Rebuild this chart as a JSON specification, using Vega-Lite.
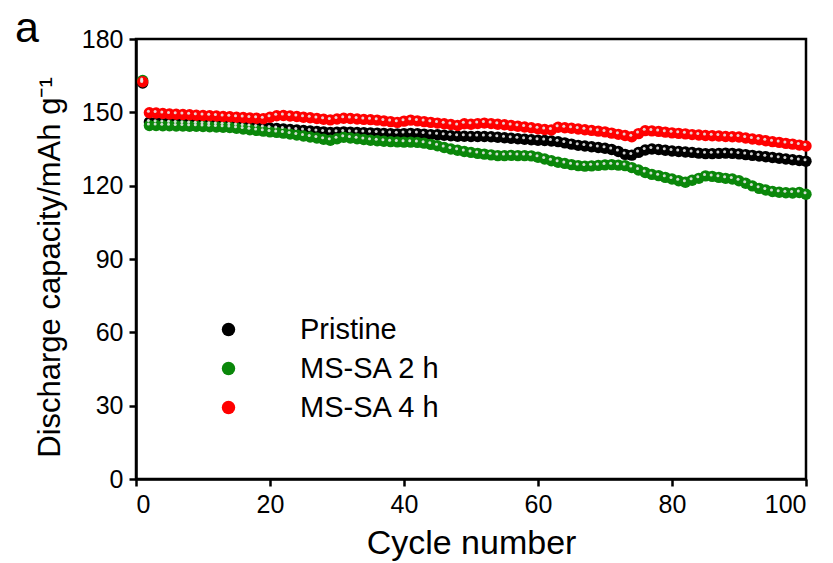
{
"$schema":"https://vega.github.io/schema/vega-lite/v6.json",
"width":670,"height":440,
"autosize":{"type":"none"},
"padding":{"left":136,"top":39,"right":27,"bottom":84},
"background":"white",
"title":{"text":"a","anchor":"start","frame":"group","fontSize":43,"fontWeight":"normal","font":"Liberation Sans","color":"black","dx":-121,"offset":-24},
"config":{"view":{"stroke":"black","strokeWidth":2.5},"font":"Liberation Sans"},
"datasets":{"d":[
{"c":1,"s":"Pristine","v":162.0},{"c":2,"s":"Pristine","v":146.0},{"c":3,"s":"Pristine","v":145.9},{"c":4,"s":"Pristine","v":145.8},{"c":5,"s":"Pristine","v":145.7},{"c":6,"s":"Pristine","v":145.6},{"c":7,"s":"Pristine","v":145.5},{"c":8,"s":"Pristine","v":145.4},{"c":9,"s":"Pristine","v":145.3},{"c":10,"s":"Pristine","v":145.2},
{"c":11,"s":"Pristine","v":145.1},{"c":12,"s":"Pristine","v":145.0},{"c":13,"s":"Pristine","v":144.9},{"c":14,"s":"Pristine","v":144.8},{"c":15,"s":"Pristine","v":144.6},{"c":16,"s":"Pristine","v":144.4},{"c":17,"s":"Pristine","v":144.2},{"c":18,"s":"Pristine","v":144.0},{"c":19,"s":"Pristine","v":143.8},{"c":20,"s":"Pristine","v":143.6},
{"c":21,"s":"Pristine","v":143.4},{"c":22,"s":"Pristine","v":143.2},{"c":23,"s":"Pristine","v":143.0},{"c":24,"s":"Pristine","v":142.8},{"c":25,"s":"Pristine","v":142.6},{"c":26,"s":"Pristine","v":142.4},{"c":27,"s":"Pristine","v":142.2},{"c":28,"s":"Pristine","v":142.0},{"c":29,"s":"Pristine","v":141.8},{"c":30,"s":"Pristine","v":141.9},
{"c":31,"s":"Pristine","v":142.0},{"c":32,"s":"Pristine","v":141.9},{"c":33,"s":"Pristine","v":141.8},{"c":34,"s":"Pristine","v":141.7},{"c":35,"s":"Pristine","v":141.6},{"c":36,"s":"Pristine","v":141.5},{"c":37,"s":"Pristine","v":141.4},{"c":38,"s":"Pristine","v":141.3},{"c":39,"s":"Pristine","v":141.2},{"c":40,"s":"Pristine","v":141.3},
{"c":41,"s":"Pristine","v":141.4},{"c":42,"s":"Pristine","v":141.3},{"c":43,"s":"Pristine","v":141.1},{"c":44,"s":"Pristine","v":140.9},{"c":45,"s":"Pristine","v":140.8},{"c":46,"s":"Pristine","v":140.6},{"c":47,"s":"Pristine","v":140.4},{"c":48,"s":"Pristine","v":140.2},{"c":49,"s":"Pristine","v":140.2},{"c":50,"s":"Pristine","v":140.1},
{"c":51,"s":"Pristine","v":140.1},{"c":52,"s":"Pristine","v":140.1},{"c":53,"s":"Pristine","v":140.0},{"c":54,"s":"Pristine","v":139.8},{"c":55,"s":"Pristine","v":139.6},{"c":56,"s":"Pristine","v":139.4},{"c":57,"s":"Pristine","v":139.2},{"c":58,"s":"Pristine","v":139.0},{"c":59,"s":"Pristine","v":138.8},{"c":60,"s":"Pristine","v":138.6},
{"c":61,"s":"Pristine","v":138.5},{"c":62,"s":"Pristine","v":138.3},{"c":63,"s":"Pristine","v":138.0},{"c":64,"s":"Pristine","v":137.5},{"c":65,"s":"Pristine","v":137.0},{"c":66,"s":"Pristine","v":136.5},{"c":67,"s":"Pristine","v":136.2},{"c":68,"s":"Pristine","v":135.9},{"c":69,"s":"Pristine","v":135.6},{"c":70,"s":"Pristine","v":135.3},
{"c":71,"s":"Pristine","v":134.8},{"c":72,"s":"Pristine","v":134.0},{"c":73,"s":"Pristine","v":132.8},{"c":74,"s":"Pristine","v":132.5},{"c":75,"s":"Pristine","v":133.6},{"c":76,"s":"Pristine","v":134.6},{"c":77,"s":"Pristine","v":135.0},{"c":78,"s":"Pristine","v":134.8},{"c":79,"s":"Pristine","v":134.5},{"c":80,"s":"Pristine","v":134.2},
{"c":81,"s":"Pristine","v":134.0},{"c":82,"s":"Pristine","v":133.8},{"c":83,"s":"Pristine","v":133.6},{"c":84,"s":"Pristine","v":133.3},{"c":85,"s":"Pristine","v":133.1},{"c":86,"s":"Pristine","v":133.1},{"c":87,"s":"Pristine","v":133.2},{"c":88,"s":"Pristine","v":133.3},{"c":89,"s":"Pristine","v":133.2},{"c":90,"s":"Pristine","v":133.0},
{"c":91,"s":"Pristine","v":132.7},{"c":92,"s":"Pristine","v":132.4},{"c":93,"s":"Pristine","v":132.1},{"c":94,"s":"Pristine","v":131.8},{"c":95,"s":"Pristine","v":131.5},{"c":96,"s":"Pristine","v":131.2},{"c":97,"s":"Pristine","v":130.9},{"c":98,"s":"Pristine","v":130.6},{"c":99,"s":"Pristine","v":130.3},{"c":100,"s":"Pristine","v":130.0},
{"c":1,"s":"MS-SA 2 h","v":163.0},{"c":2,"s":"MS-SA 2 h","v":144.6},{"c":3,"s":"MS-SA 2 h","v":144.6},{"c":4,"s":"MS-SA 2 h","v":144.5},{"c":5,"s":"MS-SA 2 h","v":144.5},{"c":6,"s":"MS-SA 2 h","v":144.4},{"c":7,"s":"MS-SA 2 h","v":144.4},{"c":8,"s":"MS-SA 2 h","v":144.3},{"c":9,"s":"MS-SA 2 h","v":144.3},{"c":10,"s":"MS-SA 2 h","v":144.2},
{"c":11,"s":"MS-SA 2 h","v":144.1},{"c":12,"s":"MS-SA 2 h","v":144.0},{"c":13,"s":"MS-SA 2 h","v":143.9},{"c":14,"s":"MS-SA 2 h","v":143.8},{"c":15,"s":"MS-SA 2 h","v":143.5},{"c":16,"s":"MS-SA 2 h","v":143.2},{"c":17,"s":"MS-SA 2 h","v":142.9},{"c":18,"s":"MS-SA 2 h","v":142.6},{"c":19,"s":"MS-SA 2 h","v":142.3},{"c":20,"s":"MS-SA 2 h","v":142.0},
{"c":21,"s":"MS-SA 2 h","v":141.8},{"c":22,"s":"MS-SA 2 h","v":141.5},{"c":23,"s":"MS-SA 2 h","v":141.1},{"c":24,"s":"MS-SA 2 h","v":140.7},{"c":25,"s":"MS-SA 2 h","v":140.3},{"c":26,"s":"MS-SA 2 h","v":139.9},{"c":27,"s":"MS-SA 2 h","v":139.5},{"c":28,"s":"MS-SA 2 h","v":139.0},{"c":29,"s":"MS-SA 2 h","v":138.6},{"c":30,"s":"MS-SA 2 h","v":139.2},
{"c":31,"s":"MS-SA 2 h","v":139.8},{"c":32,"s":"MS-SA 2 h","v":139.5},{"c":33,"s":"MS-SA 2 h","v":139.2},{"c":34,"s":"MS-SA 2 h","v":138.9},{"c":35,"s":"MS-SA 2 h","v":138.6},{"c":36,"s":"MS-SA 2 h","v":138.4},{"c":37,"s":"MS-SA 2 h","v":138.2},{"c":38,"s":"MS-SA 2 h","v":138.0},{"c":39,"s":"MS-SA 2 h","v":137.9},{"c":40,"s":"MS-SA 2 h","v":137.8},
{"c":41,"s":"MS-SA 2 h","v":137.8},{"c":42,"s":"MS-SA 2 h","v":137.7},{"c":43,"s":"MS-SA 2 h","v":137.4},{"c":44,"s":"MS-SA 2 h","v":136.9},{"c":45,"s":"MS-SA 2 h","v":136.3},{"c":46,"s":"MS-SA 2 h","v":135.6},{"c":47,"s":"MS-SA 2 h","v":135.0},{"c":48,"s":"MS-SA 2 h","v":134.5},{"c":49,"s":"MS-SA 2 h","v":134.0},{"c":50,"s":"MS-SA 2 h","v":133.6},
{"c":51,"s":"MS-SA 2 h","v":133.2},{"c":52,"s":"MS-SA 2 h","v":132.9},{"c":53,"s":"MS-SA 2 h","v":132.6},{"c":54,"s":"MS-SA 2 h","v":132.3},{"c":55,"s":"MS-SA 2 h","v":132.3},{"c":56,"s":"MS-SA 2 h","v":132.4},{"c":57,"s":"MS-SA 2 h","v":132.3},{"c":58,"s":"MS-SA 2 h","v":132.3},{"c":59,"s":"MS-SA 2 h","v":132.2},{"c":60,"s":"MS-SA 2 h","v":131.6},
{"c":61,"s":"MS-SA 2 h","v":130.9},{"c":62,"s":"MS-SA 2 h","v":130.2},{"c":63,"s":"MS-SA 2 h","v":129.6},{"c":64,"s":"MS-SA 2 h","v":129.1},{"c":65,"s":"MS-SA 2 h","v":128.6},{"c":66,"s":"MS-SA 2 h","v":128.2},{"c":67,"s":"MS-SA 2 h","v":128.0},{"c":68,"s":"MS-SA 2 h","v":128.1},{"c":69,"s":"MS-SA 2 h","v":128.3},{"c":70,"s":"MS-SA 2 h","v":128.5},
{"c":71,"s":"MS-SA 2 h","v":128.6},{"c":72,"s":"MS-SA 2 h","v":128.4},{"c":73,"s":"MS-SA 2 h","v":128.2},{"c":74,"s":"MS-SA 2 h","v":127.4},{"c":75,"s":"MS-SA 2 h","v":126.4},{"c":76,"s":"MS-SA 2 h","v":125.4},{"c":77,"s":"MS-SA 2 h","v":124.6},{"c":78,"s":"MS-SA 2 h","v":124.1},{"c":79,"s":"MS-SA 2 h","v":123.4},{"c":80,"s":"MS-SA 2 h","v":122.7},
{"c":81,"s":"MS-SA 2 h","v":122.0},{"c":82,"s":"MS-SA 2 h","v":121.4},{"c":83,"s":"MS-SA 2 h","v":122.2},{"c":84,"s":"MS-SA 2 h","v":123.0},{"c":85,"s":"MS-SA 2 h","v":124.0},{"c":86,"s":"MS-SA 2 h","v":123.8},{"c":87,"s":"MS-SA 2 h","v":123.4},{"c":88,"s":"MS-SA 2 h","v":123.0},{"c":89,"s":"MS-SA 2 h","v":122.7},{"c":90,"s":"MS-SA 2 h","v":122.0},
{"c":91,"s":"MS-SA 2 h","v":121.0},{"c":92,"s":"MS-SA 2 h","v":119.9},{"c":93,"s":"MS-SA 2 h","v":118.9},{"c":94,"s":"MS-SA 2 h","v":118.2},{"c":95,"s":"MS-SA 2 h","v":117.6},{"c":96,"s":"MS-SA 2 h","v":117.3},{"c":97,"s":"MS-SA 2 h","v":117.1},{"c":98,"s":"MS-SA 2 h","v":117.0},{"c":99,"s":"MS-SA 2 h","v":117.2},{"c":100,"s":"MS-SA 2 h","v":116.5},
{"c":1,"s":"MS-SA 4 h","v":162.5},{"c":2,"s":"MS-SA 4 h","v":149.8},{"c":3,"s":"MS-SA 4 h","v":149.7},{"c":4,"s":"MS-SA 4 h","v":149.5},{"c":5,"s":"MS-SA 4 h","v":149.3},{"c":6,"s":"MS-SA 4 h","v":149.2},{"c":7,"s":"MS-SA 4 h","v":149.1},{"c":8,"s":"MS-SA 4 h","v":149.0},{"c":9,"s":"MS-SA 4 h","v":148.8},{"c":10,"s":"MS-SA 4 h","v":148.7},
{"c":11,"s":"MS-SA 4 h","v":148.6},{"c":12,"s":"MS-SA 4 h","v":148.5},{"c":13,"s":"MS-SA 4 h","v":148.3},{"c":14,"s":"MS-SA 4 h","v":148.2},{"c":15,"s":"MS-SA 4 h","v":148.0},{"c":16,"s":"MS-SA 4 h","v":147.9},{"c":17,"s":"MS-SA 4 h","v":147.7},{"c":18,"s":"MS-SA 4 h","v":147.6},{"c":19,"s":"MS-SA 4 h","v":147.4},{"c":20,"s":"MS-SA 4 h","v":148.0},
{"c":21,"s":"MS-SA 4 h","v":148.6},{"c":22,"s":"MS-SA 4 h","v":148.7},{"c":23,"s":"MS-SA 4 h","v":148.5},{"c":24,"s":"MS-SA 4 h","v":148.3},{"c":25,"s":"MS-SA 4 h","v":148.0},{"c":26,"s":"MS-SA 4 h","v":147.8},{"c":27,"s":"MS-SA 4 h","v":147.5},{"c":28,"s":"MS-SA 4 h","v":147.2},{"c":29,"s":"MS-SA 4 h","v":146.9},{"c":30,"s":"MS-SA 4 h","v":147.3},
{"c":31,"s":"MS-SA 4 h","v":147.6},{"c":32,"s":"MS-SA 4 h","v":147.5},{"c":33,"s":"MS-SA 4 h","v":147.3},{"c":34,"s":"MS-SA 4 h","v":147.1},{"c":35,"s":"MS-SA 4 h","v":147.0},{"c":36,"s":"MS-SA 4 h","v":146.8},{"c":37,"s":"MS-SA 4 h","v":146.5},{"c":38,"s":"MS-SA 4 h","v":146.2},{"c":39,"s":"MS-SA 4 h","v":145.9},{"c":40,"s":"MS-SA 4 h","v":146.4},
{"c":41,"s":"MS-SA 4 h","v":146.8},{"c":42,"s":"MS-SA 4 h","v":146.5},{"c":43,"s":"MS-SA 4 h","v":146.2},{"c":44,"s":"MS-SA 4 h","v":145.9},{"c":45,"s":"MS-SA 4 h","v":145.6},{"c":46,"s":"MS-SA 4 h","v":145.3},{"c":47,"s":"MS-SA 4 h","v":145.0},{"c":48,"s":"MS-SA 4 h","v":144.6},{"c":49,"s":"MS-SA 4 h","v":145.3},{"c":50,"s":"MS-SA 4 h","v":145.1},
{"c":51,"s":"MS-SA 4 h","v":145.4},{"c":52,"s":"MS-SA 4 h","v":145.6},{"c":53,"s":"MS-SA 4 h","v":145.4},{"c":54,"s":"MS-SA 4 h","v":145.1},{"c":55,"s":"MS-SA 4 h","v":144.9},{"c":56,"s":"MS-SA 4 h","v":144.6},{"c":57,"s":"MS-SA 4 h","v":144.3},{"c":58,"s":"MS-SA 4 h","v":144.0},{"c":59,"s":"MS-SA 4 h","v":143.7},{"c":60,"s":"MS-SA 4 h","v":143.3},
{"c":61,"s":"MS-SA 4 h","v":143.0},{"c":62,"s":"MS-SA 4 h","v":142.8},{"c":63,"s":"MS-SA 4 h","v":143.9},{"c":64,"s":"MS-SA 4 h","v":143.7},{"c":65,"s":"MS-SA 4 h","v":143.5},{"c":66,"s":"MS-SA 4 h","v":143.2},{"c":67,"s":"MS-SA 4 h","v":142.9},{"c":68,"s":"MS-SA 4 h","v":142.6},{"c":69,"s":"MS-SA 4 h","v":142.3},{"c":70,"s":"MS-SA 4 h","v":142.0},
{"c":71,"s":"MS-SA 4 h","v":141.5},{"c":72,"s":"MS-SA 4 h","v":141.0},{"c":73,"s":"MS-SA 4 h","v":140.5},{"c":74,"s":"MS-SA 4 h","v":140.0},{"c":75,"s":"MS-SA 4 h","v":141.3},{"c":76,"s":"MS-SA 4 h","v":142.5},{"c":77,"s":"MS-SA 4 h","v":142.4},{"c":78,"s":"MS-SA 4 h","v":142.2},{"c":79,"s":"MS-SA 4 h","v":141.9},{"c":80,"s":"MS-SA 4 h","v":141.6},
{"c":81,"s":"MS-SA 4 h","v":141.4},{"c":82,"s":"MS-SA 4 h","v":141.2},{"c":83,"s":"MS-SA 4 h","v":140.9},{"c":84,"s":"MS-SA 4 h","v":140.7},{"c":85,"s":"MS-SA 4 h","v":140.5},{"c":86,"s":"MS-SA 4 h","v":140.4},{"c":87,"s":"MS-SA 4 h","v":140.3},{"c":88,"s":"MS-SA 4 h","v":140.1},{"c":89,"s":"MS-SA 4 h","v":140.0},{"c":90,"s":"MS-SA 4 h","v":139.9},
{"c":91,"s":"MS-SA 4 h","v":139.5},{"c":92,"s":"MS-SA 4 h","v":139.1},{"c":93,"s":"MS-SA 4 h","v":138.8},{"c":94,"s":"MS-SA 4 h","v":138.4},{"c":95,"s":"MS-SA 4 h","v":138.0},{"c":96,"s":"MS-SA 4 h","v":137.7},{"c":97,"s":"MS-SA 4 h","v":137.3},{"c":98,"s":"MS-SA 4 h","v":137.0},{"c":99,"s":"MS-SA 4 h","v":136.6},{"c":100,"s":"MS-SA 4 h","v":136.2}
]},
"data":{"name":"d"},
"encoding":{
"x":{"field":"c","type":"quantitative","title":"Cycle number","scale":{"domain":[0,100],"nice":false},
"axis":{"values":[0,20,40,60,80,100],"grid":false,"domainColor":"black","domainWidth":2.5,"tickColor":"black","tickWidth":2.5,"tickSize":7,"labelFontSize":25,"labelColor":"black","labelPadding":6,"labelFont":"Liberation Sans","titleFont":"Liberation Sans","titleFontSize":34,"titleFontWeight":"normal","titleColor":"black","titlePadding":9}},
"y":{"field":"v","type":"quantitative","title":"Discharge capacity/mAh g⁻¹","scale":{"domain":[0,180],"nice":false,"zero":true},
"axis":{"values":[0,30,60,90,120,150,180],"grid":false,"domainColor":"black","domainWidth":2.5,"tickColor":"black","tickWidth":2.5,"tickSize":7,"labelFontSize":25,"labelColor":"black","labelPadding":6,"labelFont":"Liberation Sans","titleFont":"Liberation Sans","titleFontSize":31,"titleFontWeight":"normal","titleColor":"black","titlePadding":15,"titleY":228}}
},
"layer":[
{"mark":{"type":"point","filled":true,"shape":"circle","size":130,"opacity":1},
"encoding":{"color":{"field":"s","type":"nominal","sort":null,
"scale":{"domain":["Pristine","MS-SA 2 h","MS-SA 4 h"],"range":["#000000","#0a870a","#ff0000"]},
"legend":{"title":null,"orient":"none","legendX":78,"legendY":276,"symbolSize":180,"symbolType":"circle","labelFontSize":29,"labelFont":"Liberation Sans","labelColor":"black","labelOffset":57,"rowPadding":9,"symbolStrokeWidth":0}}}},
{"mark":{"type":"point","filled":true,"shape":"circle","size":9,"color":"#e8e8e8","opacity":0.9,"xOffset":-1,"yOffset":-1.5},
"encoding":{}}
]
}
